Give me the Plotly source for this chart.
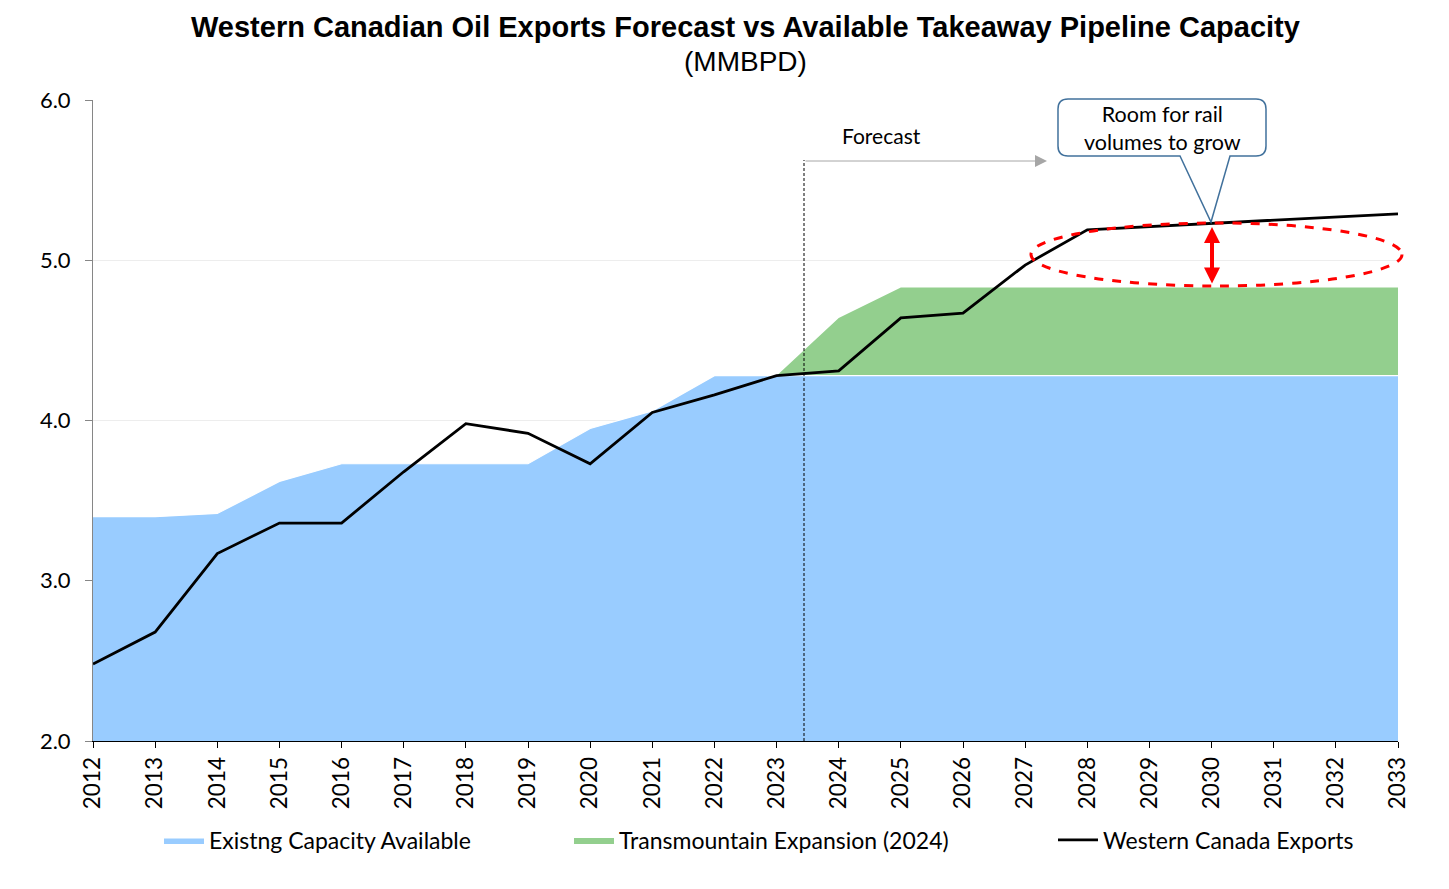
import plotly.graph_objects as go

years = list(range(2012, 2034))

# MMBPD
existing_capacity = [3.40, 3.40, 3.42, 3.62, 3.73, 3.73, 3.73, 3.73, 3.95, 4.06, 4.28,
                     4.28, 4.28, 4.28, 4.28, 4.28, 4.28, 4.28, 4.28, 4.28, 4.28, 4.28]
tmx_expansion = [0, 0, 0, 0, 0, 0, 0, 0, 0, 0, 0,
                 0, 0.36, 0.55, 0.55, 0.55, 0.55, 0.55, 0.55, 0.55, 0.55, 0.55]
wc_exports = [2.48, 2.68, 3.17, 3.36, 3.36, 3.68, 3.98, 3.92, 3.73, 4.05, 4.16,
              4.28, 4.31, 4.64, 4.67, 4.97, 5.19, 5.21, 5.23, 5.25, 5.27, 5.29]

FONT = "Lato"

# page has an 8px body margin; margins chosen so the plot box lands at
# x 93..1398, y 100..741 of the window
OFF = 8
ML, MR, MT, MB = 85, 43, 92, 140
W, H = 1449 - 2 * OFF, 889 - 2 * OFF
PW, PH = W - ML - MR, H - MT - MB


def px(x):
    return (x - OFF - ML) / PW


def py(y):
    return (H + OFF - MB - y) / PH


fig = go.Figure()

fig.add_trace(go.Scatter(
    x=years, y=existing_capacity, name="Existng Capacity Available",
    stackgroup="cap", mode="lines", line=dict(color="white", width=1.2),
    fillcolor="#99CCFF", legend="legend"))
fig.add_trace(go.Scatter(
    x=years, y=tmx_expansion, name="Transmountain Expansion (2024)",
    stackgroup="cap", mode="lines", line=dict(color="#93CF8E", width=0),
    fillcolor="#93CF8E", legend="legend2"))
fig.add_trace(go.Scatter(
    x=years, y=wc_exports, name="Western Canada Exports",
    mode="lines", line=dict(color="black", width=2.8), legend="legend3"))

# forecast marker
fig.add_shape(type="line", xref="paper", yref="paper",
              x0=px(804), x1=px(804), y0=0, y1=py(160),
              line=dict(color="black", width=1, dash="3px,2px"))
fig.add_annotation(xref="paper", yref="paper", x=px(1047), y=py(161),
                   ax=-243, ay=0, text="", showarrow=True,
                   arrowhead=2, arrowsize=2.4, arrowwidth=1, arrowcolor="#A6A6A6")
fig.add_annotation(xref="paper", yref="paper", x=px(882), y=py(136),
                   xanchor="center", yanchor="middle",
                   text="Forecast", showarrow=False,
                   font=dict(family=FONT, size=21, color="black"))

# red dashed ellipse and double arrow
fig.add_shape(type="circle", xref="paper", yref="paper",
              x0=px(1031), x1=px(1402), y0=py(286), y1=py(223),
              line=dict(color="#FF0000", width=3, dash="dash"))
fig.add_annotation(xref="paper", yref="paper", x=px(1212), y=py(227),
                   ax=0, ay=58, text="", showarrow=True, arrowside="end+start",
                   arrowhead=2, arrowsize=0.8, arrowwidth=4, arrowcolor="#FF0000")

# callout box
pts = [("M", 1068, 99), ("L", 1256, 99), ("Q", 1266, 99, 1266, 109), ("L", 1266, 146),
       ("Q", 1266, 156, 1256, 156), ("L", 1230, 156), ("L", 1211, 222), ("L", 1180, 156),
       ("L", 1068, 156), ("Q", 1058, 156, 1058, 146), ("L", 1058, 109),
       ("Q", 1058, 99, 1068, 99)]
path = ""
for p in pts:
    coords = p[1:]
    parts = []
    for i in range(0, len(coords), 2):
        parts.append("%.5f,%.5f" % (px(coords[i]), py(coords[i + 1])))
    path += p[0] + " " + " ".join(parts) + " "
path += "Z"
fig.add_shape(type="path", xref="paper", yref="paper", path=path,
              fillcolor="white", line=dict(color="#41719C", width=1.5))
fig.add_annotation(xref="paper", yref="paper", x=px(1162), y=py(128),
                   xanchor="center", yanchor="middle",
                   text="Room for rail<br>volumes to grow", showarrow=False,
                   font=dict(family=FONT, size=21.5, color="black"))

# titles
fig.add_annotation(xref="paper", yref="paper", x=px(745), y=py(27),
                   xanchor="center", yanchor="middle",
                   text="<b>Western Canadian Oil Exports Forecast vs Available Takeaway Pipeline Capacity</b>",
                   showarrow=False, font=dict(family="Liberation Sans", size=29, color="black"))
fig.add_annotation(xref="paper", yref="paper", x=px(745), y=py(62),
                   xanchor="center", yanchor="middle",
                   text="(MMBPD)", showarrow=False,
                   font=dict(family="Liberation Sans", size=28, color="black"))

leg = dict(orientation="h", yanchor="middle", y=py(840), xanchor="left", itemwidth=40,
           font=dict(family=FONT, size=23, color="black"), bgcolor="rgba(0,0,0,0)")
fig.update_layout(
    width=W, height=H,
    margin=dict(l=ML, r=MR, t=MT, b=MB),
    plot_bgcolor="white", paper_bgcolor="white",
    font=dict(family=FONT, size=20, color="black"),
    showlegend=True,
    legend=dict(leg, x=px(159)),
    legend2=dict(leg, x=px(569)),
    legend3=dict(leg, x=px(1053)),
    xaxis=dict(range=[2012, 2033], dtick=1, tickangle=-90, showgrid=False,
               showline=True, linecolor="black", linewidth=1,
               ticks="outside", ticklen=6, tickcolor="black",
               tickfont=dict(family=FONT, size=22.5)),
    yaxis=dict(range=[2, 6], dtick=1, tickformat=".1f", showgrid=True,
               gridcolor="#EDEDED", zeroline=False,
               showline=True, linecolor="#868686", linewidth=1,
               ticks="outside", ticklen=7, tickcolor="#868686",
               ticklabelstandoff=10,
               tickfont=dict(family=FONT, size=22)),
)

fig.write_html("out.html")
